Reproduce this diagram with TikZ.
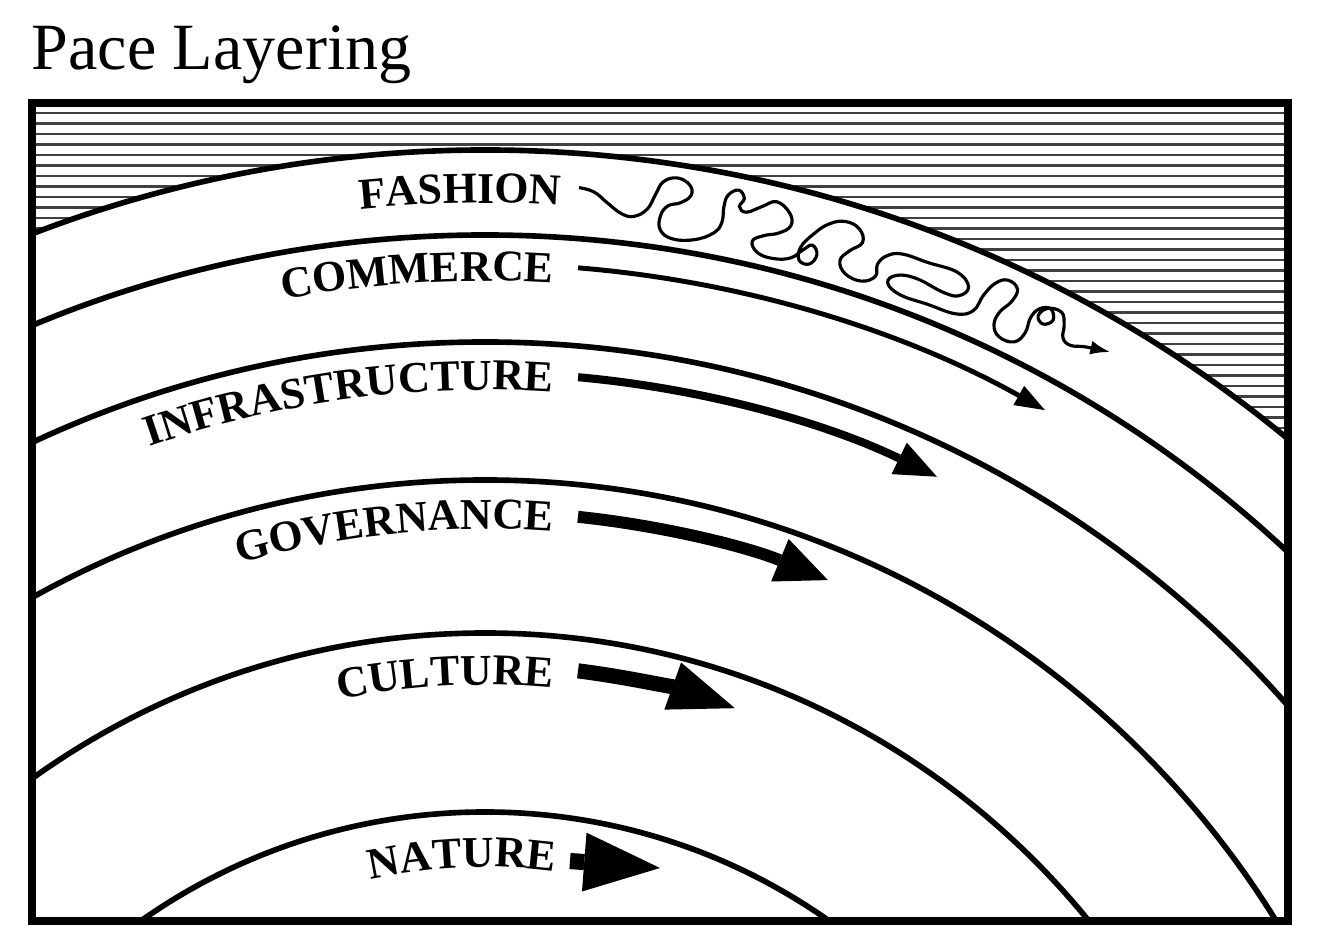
\documentclass[tikz,border=0pt]{standalone}
\usepackage{fontspec}
\setmainfont{Liberation Serif}
\usetikzlibrary{arrows.meta,decorations.text}

\newcommand{\layerfont}{\fontsize{12.5}{14}\selectfont\bfseries}

\tikzset{
    frame/.style={line width=2.4pt},
    layer/.style={line width=1.6pt},
    hatch/.style={line width=0.75pt, black!75},
    squiggle/.style={line width=0.9pt, -{Latex[length=2mm, width=1.4mm]}},
    pacearrow/.style n args={3}{line width=#1, -{Triangle[length=#2, width=#3, line width=0pt]}},
    laylabel/.style={decorate, decoration={text along path, text align=right, text={|\layerfont|#1}}}
}

\begin{document}
\begin{tikzpicture}[x=0.1mm, y=0.1mm]
    \useasboundingbox (0,0) rectangle (1330,944);
    \coordinate (ctr) at (485,-466);
    \node[anchor=base west, inner sep=0pt, font=\fontsize{18.8}{22}\selectfont] (title) at (31,874) {Pace Layering};
    \begin{scope}
        \clip (32,23) rectangle (1288,841);
        \foreach \i in {0,...,32} {
            \draw[hatch] (32,{831-10.5*\i}) -- (1288,{831-10.5*\i});
        }
        \fill[white] (ctr) circle (1260);
        \foreach \r in {1260,1175,1068,930,777,598} {
            \draw[layer] (ctr) circle (\r);
        }
    \end{scope}
    \draw[frame] (32,23) rectangle (1288,841);
    \begin{scope}[shift={(ctr)}]
        \path[laylabel=FASHION] (125:1207) arc[start angle=125, end angle=86.43, radius=1207];
        \path[laylabel=COMMERCE] (125:1129) arc[start angle=125, end angle=86.55, radius=1129];
        \path[laylabel=INFRASTRUCTURE] (125:1020) arc[start angle=125, end angle=86.18, radius=1020];
        \path[laylabel=GOVERNANCE] (125:881) arc[start angle=125, end angle=85.57, radius=881];
        \path[laylabel=CULTURE] (125:725) arc[start angle=125, end angle=84.62, radius=725];
        \path[laylabel=NATURE] (125:543) arc[start angle=125, end angle=82.6, radius=543];
        % velocita
        \draw[pacearrow={1.4pt}{3mm}{2.2mm}] (85.34:1146) arc[start angle=85.34, end angle=60.75, radius=1146];
        \draw[pacearrow={2.3pt}{4.2mm}{3.5mm}] (84.85:1037) arc[start angle=84.85, end angle=64.16, radius=1037];
        \draw[pacearrow={3.4pt}{5.2mm}{4.6mm}] (84.06:898) arc[start angle=84.06, end angle=67.55, radius=898];
        \draw[pacearrow={4.3pt}{6.6mm}{5mm}] (82.83:745) arc[start angle=82.83, end angle=70.4, radius=745];
        % fashion
        \draw[squiggle] plot[smooth, tension=0.7] coordinates {
            (85.60:1226) (84.89:1223) (84.19:1213) (83.48:1204) (82.87:1203) (82.30:1212)
            (82.02:1227) (81.74:1241) (81.13:1247) (80.51:1242) (80.37:1232) (80.80:1223)
            (81.36:1218) (81.64:1207) (81.55:1193) (80.89:1186) (79.85:1189) (79.01:1199)
            (78.72:1211) (78.77:1227) (78.68:1239) (78.25:1246) (77.92:1239) (78.06:1230)
            (77.69:1226) (77.03:1235) (76.42:1243) (75.71:1235) (75.52:1223) (75.99:1213)
            (76.65:1207) (77.12:1199) (76.75:1189) (75.94:1187) (75.14:1192) (74.67:1203)
            (74.30:1210) (73.97:1202) (74.20:1191) (74.72:1192) (74.81:1205) (74.39:1221)
            (73.82:1235) (73.12:1242) (72.41:1239) (72.08:1227) (72.55:1215) (72.84:1203)
            (72.41:1192) (71.56:1190) (71.00:1199) (71.09:1211) (70.81:1222) (70.15:1229)
            (68.88:1230) (67.47:1232) (66.71:1223) (66.95:1211) (67.70:1208) (69.12:1211)
            (70.06:1207) (70.34:1197) (69.59:1190) (68.17:1191) (66.76:1193) (66.05:1203)
            (65.91:1221) (65.63:1237) (65.16:1245) (64.59:1241) (64.59:1227) (64.88:1213)
            (64.88:1199) (64.41:1190) (63.65:1192) (63.37:1205) (63.46:1221) (63.27:1233)
            (62.80:1238) (62.47:1229) (62.80:1221) (63.18:1226) (62.94:1237) (62.29:1240)
            (61.91:1230) (61.67:1218) (61.20:1215) (60.54:1221) (59.41:1229)};
    \end{scope}
    \draw[pacearrow={4.6pt}{7.6mm}{5.9mm}] (570,83) -- (660,76); % nature
\end{tikzpicture}
\end{document}
